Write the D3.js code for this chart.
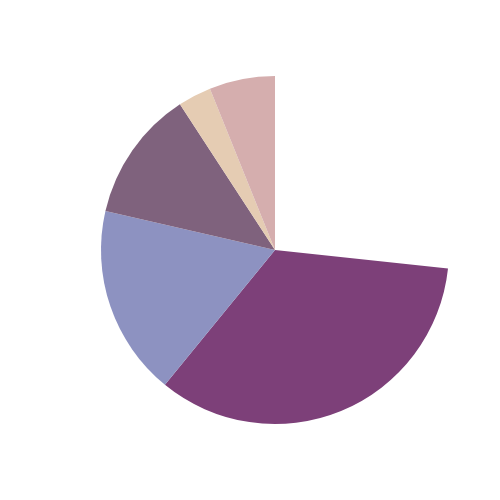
<!DOCTYPE html>
<html>
<head>
<meta charset="utf-8">
<script src="https://cdn.jsdelivr.net/npm/d3@7"></script>
<style>
  body { margin: 0; background: #fff; }
</style>
</head>
<body>
<svg></svg>
<script>
// slices, clockwise from the open gap
let labels = ['A', 'B', 'C', 'D', 'E']
let values = [34.2, 17.7, 12.2, 3.1, 6.1]
let colors = ['#7d4079', '#8d92c1', '#7f627d', '#e5ccb3', '#d5aeae']

let width = 500
let height = 500
let radius = 174
let cx = 275
let cy = 250

let svg = d3.select('svg')
            .attr('width', width)
            .attr('height', height)

// the pie is drawn on a 100 total, the rest is left empty
let total = 100
let used = d3.sum(values)
let startAngle = 2 * Math.PI * (1 - used / total)

let pie = d3.pie()
            .sort(null)
            .value((d) => d)
            .startAngle(startAngle)
            .endAngle(2 * Math.PI)

let arc = d3.arc()
            .innerRadius(0)
            .outerRadius(radius)

let color = d3.scaleOrdinal()
              .domain(d3.range(values.length))
              .range(colors)

svg.append('g')
   .attr('transform', 'translate(' + cx + ',' + cy + ')')
   .selectAll('path')
   .data(pie(values))
   .enter()
   .append('path')
   .attr('d', arc)
   .attr('fill', (d, i) => color(i))
   .attr('data-label', (d, i) => labels[i])
</script>
</body>
</html>
